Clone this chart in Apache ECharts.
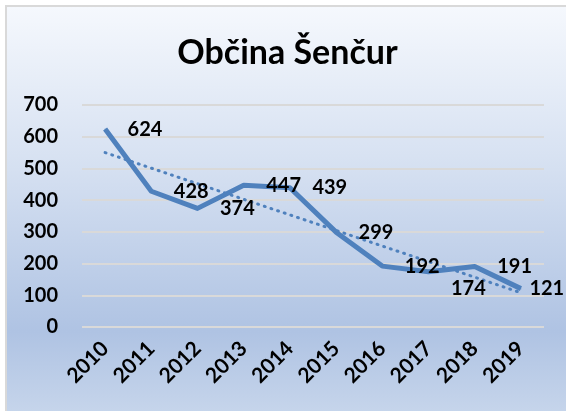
<!DOCTYPE html>
<html>
<head>
<meta charset="utf-8">
<script src="https://cdn.jsdelivr.net/npm/echarts@6/dist/echarts.min.js"></script>
<style>
  html, body { margin: 0; padding: 0; background: #ffffff; }
  #chart {
    position: absolute;
    left: 5px;
    top: 5px;
    width: 561px;
    height: 406px;
    border-left: 2px solid #d9d9d9;
    border-top: 2px solid #d9d9d9;
  }
</style>
</head>
<body>
<div id="chart"></div>
<script>
const years = ['2010', '2011', '2012', '2013', '2014', '2015', '2016', '2017', '2018', '2019']
const values = [624, 428, 374, 447, 439, 299, 192, 174, 191, 121]
// trend line end points
const trend = [550, null, null, null, null, null, null, null, null, 108]
const yTicks = [0, 100, 200, 300, 400, 500, 600, 700]

const font = 'Lato, "Open Sans", sans-serif'
const chart = echarts.init(document.getElementById('chart'))

// a few labels sit off the usual place, like in the source chart
const labelShift = { '2017': { dy: 17 } }
const lineData = values.map((v, i) => (years[i] === '2019' ? { value: v, label: { distance: 8 } } : v))

chart.setOption({
  backgroundColor: {
    type: 'linear', x: 0, y: 0, x2: 0, y2: 1,
    colorStops: [
      { offset: 0, color: '#f5f8fd' },
      { offset: 0.4, color: '#d5e0f1' },
      { offset: 0.8, color: '#afc3e3' },
      { offset: 1, color: '#c6d5eb' }
    ]
  },
  title: {
    text: 'Občina Šenčur',
    left: 'center',
    top: 24,
    textStyle: { fontFamily: font, fontSize: 34, fontWeight: 'bold', color: '#000' }
  },
  grid: { left: 75, right: 24, top: 98, bottom: 86 },
  xAxis: {
    type: 'category',
    data: years,
    axisLine: { show: false },
    axisTick: { show: false },
    axisLabel: {
      rotate: 45,
      margin: 18,
      interval: 0,
      fontFamily: font,
      fontSize: 21,
      fontWeight: 'bold',
      color: '#000'
    }
  },
  yAxis: {
    type: 'value',
    min: yTicks[0],
    max: yTicks[yTicks.length - 1],
    interval: 100,
    axisLabel: {
      margin: 24,
      fontFamily: font,
      fontSize: 20,
      fontWeight: 'bold',
      color: '#000'
    },
    splitLine: { lineStyle: { color: '#d9d9d9', width: 2 } }
  },
  series: [
    {
      type: 'line',
      data: trend,
      connectNulls: true,
      symbol: 'none',
      silent: true,
      lineStyle: { color: '#4f81bd', width: 3, type: [1, 6], cap: 'round' },
      z: 2
    },
    {
      type: 'line',
      data: lineData,
      symbol: 'circle',
      symbolSize: 1,
      showSymbol: true,
      itemStyle: { color: '#4f81bd' },
      lineStyle: { color: '#4f81bd', width: 5, join: 'round' },
      label: {
        show: true,
        position: 'right',
        distance: 22,
        fontFamily: font,
        fontSize: 20,
        fontWeight: 'bold',
        color: '#000'
      },
      labelLayout: function (params) {
        const s = labelShift[years[params.dataIndex]]
        return Object.assign({ hideOverlap: false }, s || {})
      },
      z: 3
    }
  ]
})
</script>
</body>
</html>
